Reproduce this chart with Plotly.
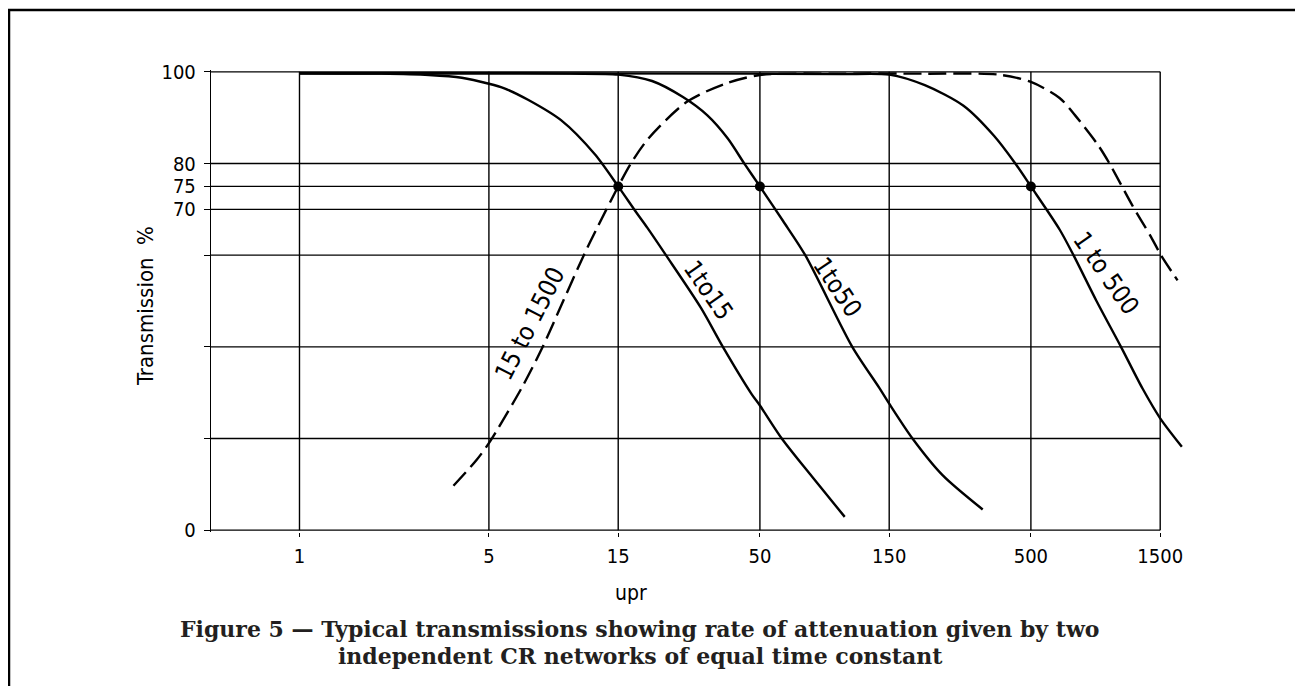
import math
import plotly.graph_objects as go

# ---------------- data ----------------
x_ticks = [1, 5, 15, 50, 150, 500, 1500]
x_tick_labels = ["1", "5", "15", "50", "150", "500", "1500"]
y_ticks = [0, 20, 40, 60, 70, 75, 80, 100]
y_tick_labels = ["0", "", "", "", "70", "75", "80", "100"]
y_grid = [0, 20, 40, 60, 70, 75, 80, 100]

# "1 to 15" (solid)
c15_x = [1, 2, 3, 3.97, 5, 5.7, 6.97, 9.25, 12.3, 15, 17.5, 19.2, 22.5, 30.3, 36.5, 46.6, 50, 60.2, 77.8, 102.8]
c15_y = [99.7, 99.6, 99.3, 98.7, 97.4, 96.4, 93.9, 89.4, 82, 75, 69.3, 66, 60, 48.5, 40, 29.7, 27.2, 20, 11.7, 2.9]

# "1 to 50" (solid)
c50_x = [1, 5, 10, 15, 20, 26, 32, 38, 44, 50, 60.8, 73.5, 109.6, 137.7, 150, 182.8, 236, 332]
c50_y = [99.7, 99.7, 99.6, 99.4, 98, 94.5, 90.5, 85.5, 79.8, 75, 67.5, 60, 40, 31.1, 27.6, 20, 12, 4.5]

# "1 to 500" (solid)
c500_x = [1, 50, 100, 150, 203, 282, 366, 438, 500, 638, 718, 873, 1075, 1291, 1500, 1803]
c500_y = [99.7, 99.6, 99.5, 99.4, 97.1, 92.6, 86, 80, 75, 65.6, 60, 50, 40, 30.9, 24.4, 18.2]

# "15 to 1500" (dashed)
c1500_x = [3.7, 4.5, 5, 6.6, 7.9, 9.4, 11.2, 12.5, 15, 16.7, 19.3, 26.8, 37.2, 50, 100, 200,
           378, 500, 638, 728, 885, 975, 1185, 1387, 1510, 1738]
c1500_y = [9.7, 15.3, 19, 31, 40, 50, 60, 65.8, 75, 80, 85.3, 93.4, 97.4, 99.3, 99.6, 99.6,
           99.4, 97.8, 94.3, 90.5, 84, 80, 70.8, 64, 60, 54.5]

# 75 % marker points
dots_x = [15, 50, 500]
dots_y = [75, 75, 75]

# curve labels: text, x, y, angle
label_text = ["15 to 1500", "1to15", "1to50", "1 to 500"]
label_x = [7.1, 32.4, 97, 950]
label_y = [45, 52.4, 53, 56]
label_angle = [-63, 55, 56, 55]

X_MIN, X_MAX = 0.4715, 2016      # plotted x range (frame starts at X_MIN)
X_FRAME_RIGHT = 1500             # right edge of grid frame
Y_MIN, Y_MAX = -0.4, 100.4

# ---------------- layout geometry ----------------
OFF = 8                          # page body margin added by the browser
W, H = 1303 - OFF, 686 - OFF
ML, MR, MT, MB = 203, 108, 62, 154
PW, PH = W - ML - MR, H - MT - MB


def px_x(px):
    """page pixel x -> paper fraction"""
    return (px - OFF - ML) / PW


def px_y(py):
    """page pixel y -> paper fraction"""
    return (H - MB - (py - OFF)) / PH


FONT = "Liberation Sans Narrow, DejaVu Sans Condensed, Arial Narrow, sans-serif"
SERIF = "DejaVu Serif, Liberation Serif, serif"
BLACK = "#000000"
GRID_W = 1.4
CURVE_W = 2.4

fig = go.Figure()

# horizontal grid lines (stop at the 1500 line)
hx, hy = [], []
for v in y_grid:
    hx += [X_MIN, X_FRAME_RIGHT, None]
    hy += [v, v, None]
fig.add_trace(go.Scatter(x=hx, y=hy, mode="lines", line=dict(color=BLACK, width=GRID_W),
                         hoverinfo="skip", showlegend=False))

# vertical grid lines
vx, vy = [], []
for t in x_ticks:
    vx += [t, t, None]
    vy += [0, 100, None]
fig.add_trace(go.Scatter(x=vx, y=vy, mode="lines", line=dict(color=BLACK, width=GRID_W),
                         hoverinfo="skip", showlegend=False))

# curves
for cx, cy, dash in [(c15_x, c15_y, "solid"), (c50_x, c50_y, "solid"),
                     (c500_x, c500_y, "solid"), (c1500_x, c1500_y, "18px,7px")]:
    fig.add_trace(go.Scatter(x=cx, y=cy, mode="lines",
                             line=dict(color=BLACK, width=CURVE_W, dash=dash,
                                       shape="spline", smoothing=0.8),
                             hoverinfo="skip", showlegend=False))

fig.add_trace(go.Scatter(x=dots_x, y=dots_y, mode="markers",
                         marker=dict(color=BLACK, size=10), hoverinfo="skip", showlegend=False))

annotations = []
for t, lx, ly, ang in zip(label_text, label_x, label_y, label_angle):
    annotations.append(dict(x=math.log10(lx), y=ly, xref="x", yref="y", text=t,
                            showarrow=False, textangle=ang, xanchor="center", yanchor="middle",
                            font=dict(family=FONT, size=25, color=BLACK)))

# axis titles
annotations.append(dict(x=px_x(631), y=px_y(593), xref="paper", yref="paper", text="upr",
                        showarrow=False, xanchor="center", yanchor="middle",
                        font=dict(family=FONT, size=21, color=BLACK)))
annotations.append(dict(x=px_x(145), y=px_y(306), xref="paper", yref="paper",
                        text="Transmission  %", textangle=-90, showarrow=False,
                        xanchor="center", yanchor="middle",
                        font=dict(family=FONT, size=22, color=BLACK)))

# caption (two centred lines)
caption_lines = ["Figure 5 — Typical transmissions showing rate of attenuation given by two",
                 "independent CR networks of equal time constant"]
for line, py in zip(caption_lines, [629, 656]):
    annotations.append(dict(x=px_x(640), y=px_y(py), xref="paper", yref="paper", text=line,
                            showarrow=False, xanchor="center", yanchor="middle",
                            font=dict(family=SERIF, size=22, color="#231f20", weight="bold")))

# outer page frame (top, left, right)
shapes = [
    dict(type="line", xref="paper", yref="paper", x0=px_x(0), x1=px_x(1310), y0=px_y(10), y1=px_y(10),
         line=dict(color=BLACK, width=2.5)),
    dict(type="line", xref="paper", yref="paper", x0=px_x(9), x1=px_x(9), y0=px_y(10), y1=px_y(700),
         line=dict(color=BLACK, width=2.5)),
    dict(type="line", xref="paper", yref="paper", x0=px_x(1300), x1=px_x(1300), y0=px_y(10), y1=px_y(700),
         line=dict(color=BLACK, width=2.5)),
]

fig.update_layout(
    width=W, height=H,
    margin=dict(l=ML, r=MR, t=MT, b=MB, pad=0),
    paper_bgcolor="white", plot_bgcolor="white",
    showlegend=False,
    annotations=annotations,
    shapes=shapes,
    xaxis=dict(type="log", range=[math.log10(X_MIN), math.log10(X_MAX)],
               tickmode="array", tickvals=x_ticks, ticktext=x_tick_labels,
               ticks="outside", ticklen=4, tickwidth=GRID_W, tickcolor=BLACK,
               showgrid=False, zeroline=False, showline=False,
               tickfont=dict(family=FONT, size=20, color=BLACK), ticklabelstandoff=2),
    yaxis=dict(range=[Y_MIN, Y_MAX], tickmode="array", tickvals=y_ticks, ticktext=y_tick_labels,
               ticks="outside", ticklen=6, tickwidth=GRID_W, tickcolor=BLACK,
               showgrid=False, zeroline=False, showline=True, linecolor=BLACK, linewidth=GRID_W,
               tickfont=dict(family=FONT, size=20, color=BLACK), ticklabelstandoff=4),
)

fig.write_html("out.html")
